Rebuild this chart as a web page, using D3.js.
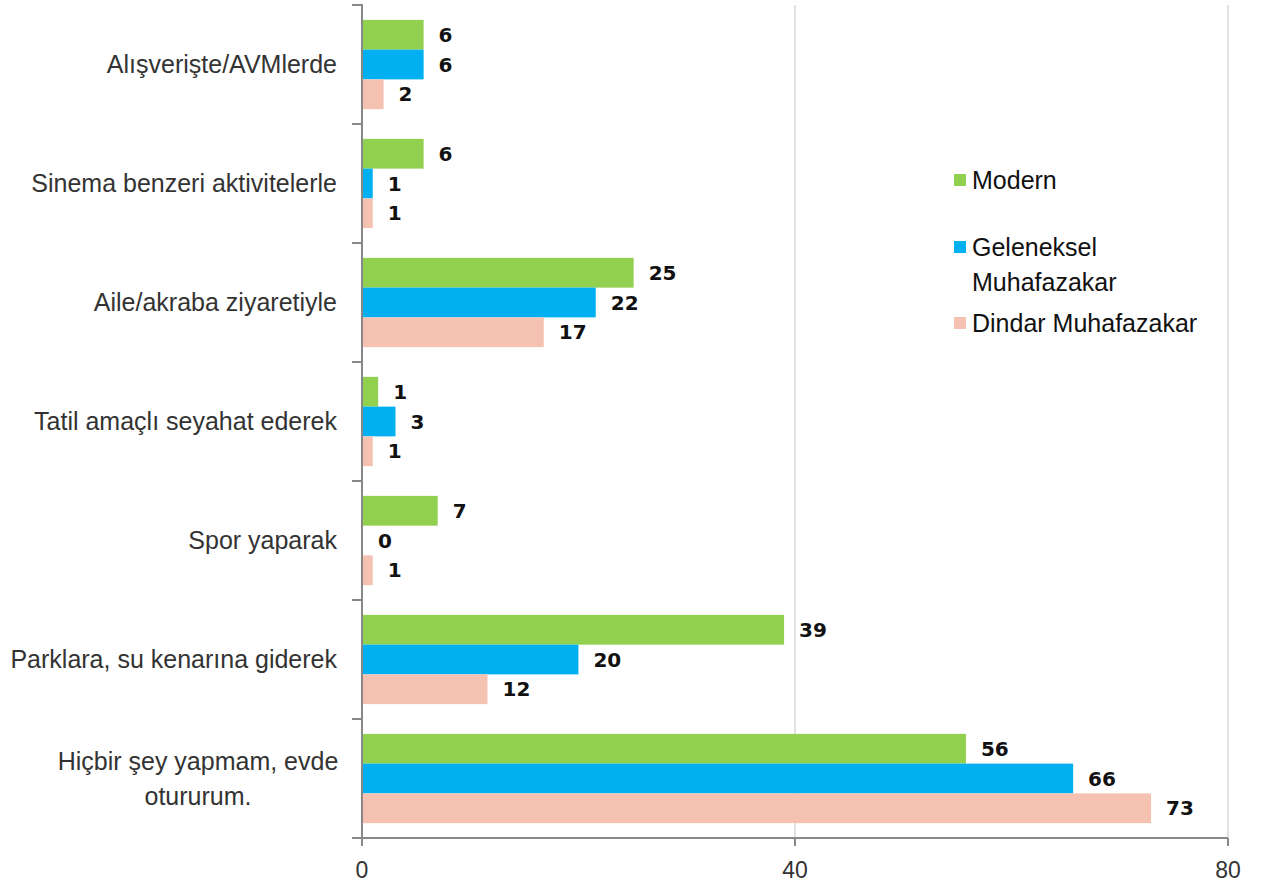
<!DOCTYPE html>
<html><head><meta charset="utf-8">
<script src="https://cdn.jsdelivr.net/npm/d3@7"></script>
<style>body{margin:0;background:#fff}svg{display:block}</style>
</head><body>
<svg id="c" width="1263" height="889"></svg>
<script>
const categories = [
  ["Alışverişte/AVMlerde"],
  ["Sinema benzeri aktivitelerle"],
  ["Aile/akraba ziyaretiyle"],
  ["Tatil amaçlı seyahat ederek"],
  ["Spor yaparak"],
  ["Parklara, su kenarına giderek"],
  ["Hiçbir şey yapmam, evde", "otururum."]
];
const seriesNames = ["Modern", "Geleneksel Muhafazakar", "Dindar Muhafazakar"];
const legendLines = [["Modern"], ["Geleneksel", "Muhafazakar"], ["Dindar Muhafazakar"]];
const modern     = [5.6, 5.6, 25.0, 1.4, 6.9, 38.9, 55.7];
const geleneksel = [5.6, 0.9, 21.5, 3.0, 0.0, 19.9, 65.6];
const dindar     = [1.9, 0.9, 16.7, 0.9, 0.9, 11.5, 72.8];
const xTicks = [0, 40, 80];
const colors = ["#92D050", "#00B0F0", "#F5C2B2"];

(function () {
const svg = d3.select("#c");
const mLeft = 362, mRight = 1228, mTop = 5, mBottom = 838;
const x = d3.scaleLinear().domain([0, 80]).range([mLeft, mRight]);
const y = d3.scaleBand().domain(d3.range(categories.length)).range([mTop, mBottom]).paddingInner(0).paddingOuter(0);
const inner = d3.scaleBand().domain(d3.range(3)).range([0, y.bandwidth()]).paddingInner(0).paddingOuter(0.5);
const series = [modern, geleneksel, dindar];

// gridlines
svg.append("g").selectAll("line").data(xTicks.slice(1)).join("line")
  .attr("x1", d => x(d)).attr("x2", d => x(d))
  .attr("y1", mTop).attr("y2", mBottom)
  .attr("stroke", "#d9d9d9").attr("stroke-width", 1.5);

// bars
series.forEach((vals, s) => {
  svg.append("g").selectAll("rect").data(vals).join("rect")
    .attr("x", x(0) + 1)
    .attr("y", (d, i) => y(i) + inner(s))
    .attr("width", d => Math.max(0, x(d) - x(0)))
    .attr("height", inner.bandwidth())
    .attr("fill", colors[s]);
  svg.append("g").selectAll("text").data(vals).join("text")
    .attr("x", d => x(d) + 16)
    .attr("y", (d, i) => y(i) + inner(s) + inner.bandwidth() / 2)
    .attr("dy", "0.36em")
    .attr("font-family", "'DejaVu Sans', sans-serif")
    .attr("font-weight", "bold")
    .attr("font-size", 20)
    .attr("fill", "#111")
    .text(d => d3.format(".0f")(d));
});

// y axis
const yAxis = svg.append("g").attr("stroke", "#888").attr("stroke-width", 2);
yAxis.append("line").attr("x1", mLeft).attr("x2", mLeft).attr("y1", mTop - 1).attr("y2", mBottom);
yAxis.selectAll("line.t").data(d3.range(categories.length + 1)).join("line").attr("class", "t")
  .attr("x1", mLeft - 10).attr("x2", mLeft)
  .attr("y1", d => d < categories.length ? y(d) : mBottom)
  .attr("y2", d => d < categories.length ? y(d) : mBottom);

// x axis
const xAxis = svg.append("g").attr("stroke", "#888").attr("stroke-width", 2);
xAxis.append("line").attr("x1", mLeft - 10).attr("x2", mRight).attr("y1", mBottom).attr("y2", mBottom);
xAxis.selectAll("line.t").data(xTicks).join("line").attr("class", "t")
  .attr("x1", d => x(d)).attr("x2", d => x(d)).attr("y1", mBottom).attr("y2", mBottom + 8);
svg.append("g").selectAll("text").data(xTicks).join("text")
  .attr("x", d => x(d)).attr("y", 878)
  .attr("text-anchor", "middle")
  .attr("font-family", "'Liberation Sans', Arial, sans-serif")
  .attr("font-size", 23).attr("fill", "#333")
  .text(d => d);

// category labels
categories.forEach((lines, i) => {
  const cy = y(i) + y.bandwidth() / 2;
  const lh = 35;
  const t = svg.append("text")
    .attr("text-anchor", lines.length > 1 ? "middle" : "end")
    .attr("font-family", "'Liberation Sans', Arial, sans-serif")
    .attr("font-size", 25).attr("fill", "#333");
  lines.forEach((ln, k) => {
    t.append("tspan")
      .attr("x", lines.length > 1 ? 198 : 337)
      .attr("y", cy + (k - (lines.length - 1) / 2) * lh)
      .attr("dy", "0.35em")
      .text(ln);
  });
});

// legend
const legY = [180, 247, 323];
legendLines.forEach((lines, s) => {
  svg.append("rect").attr("x", 954).attr("y", legY[s] - 6).attr("width", 12).attr("height", 12).attr("fill", colors[s]);
  const t = svg.append("text").attr("font-family", "'Liberation Sans', Arial, sans-serif")
    .attr("font-size", 25).attr("fill", "#111");
  lines.forEach((ln, k) => {
    t.append("tspan").attr("x", 972).attr("y", legY[s] + k * 35).attr("dy", "0.35em").text(ln);
  });
});
})();
</script>
</body></html>
